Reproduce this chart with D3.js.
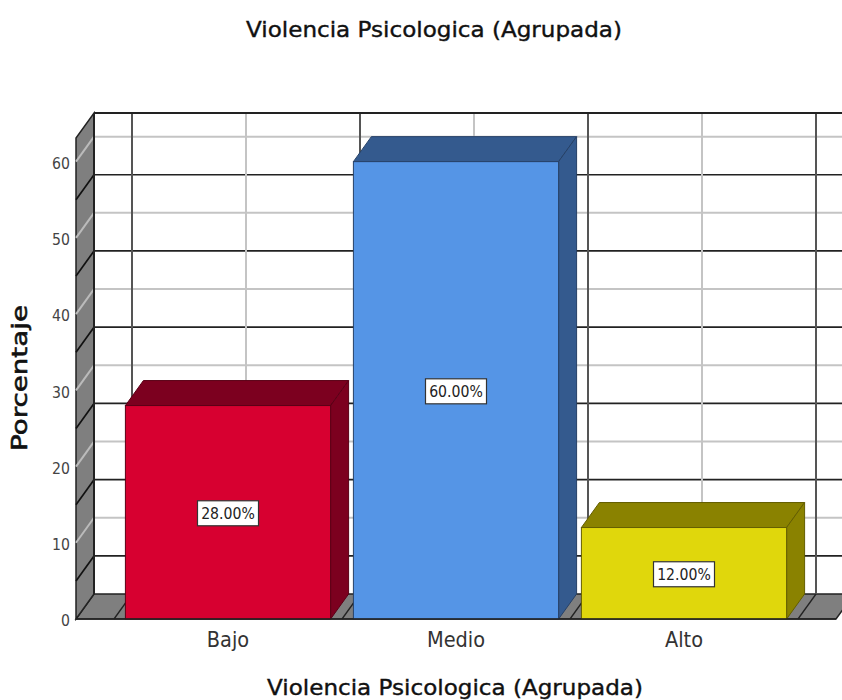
<!DOCTYPE html>
<html>
<head>
<meta charset="utf-8">
<script src="https://cdn.jsdelivr.net/npm/d3@7"></script>
<style>
  html, body { margin: 0; padding: 0; background: #fff; }
  svg { display: block; font-family: "DejaVu Sans", sans-serif; }
</style>
</head>
<body>
<div id="chart"></div>
<script>
const categories = ['Bajo', 'Medio', 'Alto'];
const values = [28, 60, 12];
const valueLabels = ['28.00%', '60.00%', '12.00%'];
const frontColors = ['#d70030', '#5595e6', '#e0d70c'];
const sideColors = ['#7c001f', '#345a8e', '#8a8200'];
const yTicks = [0, 10, 20, 30, 40, 50, 60];
const darkGrid = [5, 15, 25, 35, 45, 55];
const titleText = 'Violencia Psicologica (Agrupada)';
const yTitle = 'Porcentaje';

const width = 842, height = 700;
// offset of the back wall from the front plane
const depthX = 18, depthY = -25;
// the text in the picture is a bit narrower than the font
const narrow = 0.88;

const svg = d3.select('#chart').append('svg')
  .attr('width', width)
  .attr('height', height);

const y = d3.scaleLinear().domain([0, 63.1]).range([619, 138]);

const x = d3.scaleBand()
  .domain(categories)
  .range([114, 798])
  .paddingInner(0.1)
  .paddingOuter(0.05);

const step = x.step();
const left = 76, right = 836;
const divisions = d3.range(0, 4).map(i => x.range()[0] + i * step);
const centers = categories.map(c => x(c) + x.bandwidth() / 2);

const poly = pts => pts.map(p => p.join(',')).join(' ');

// back wall
svg.append('rect')
  .attr('x', left + depthX).attr('y', y.range()[1] + depthY)
  .attr('width', width - left - depthX).attr('height', y.range()[0] - y.range()[1])
  .attr('fill', '#fff');

// floor
svg.append('polygon')
  .attr('points', poly([[left, y(0)], [right, y(0)], [right + depthX, y(0) + depthY], [left + depthX, y(0) + depthY]]))
  .attr('fill', '#7f7f7f')
  .attr('stroke', '#222')
  .attr('stroke-width', 1.5);

// side wall
svg.append('polygon')
  .attr('points', poly([[left, y(0)], [left + depthX, y(0) + depthY], [left + depthX, y.range()[1] + depthY], [left, y.range()[1]]]))
  .attr('fill', '#7f7f7f')
  .attr('stroke', '#222')
  .attr('stroke-width', 1.5);

// horizontal grid, wall and side
function hGrid(list, color, w) {
  list.forEach(v => {
    svg.append('line')
      .attr('x1', left + depthX).attr('x2', width)
      .attr('y1', y(v) + depthY).attr('y2', y(v) + depthY)
      .attr('stroke', color).attr('stroke-width', w);
    svg.append('line')
      .attr('x1', left).attr('x2', left + depthX)
      .attr('y1', y(v)).attr('y2', y(v) + depthY)
      .attr('stroke', color === '#222' ? '#111' : '#bbb').attr('stroke-width', w);
  });
}
hGrid(yTicks.slice(1), '#c4c4c4', 2);
hGrid(darkGrid, '#222', 1.7);

// vertical grid
centers.forEach(c => {
  svg.append('line')
    .attr('x1', c + depthX).attr('x2', c + depthX)
    .attr('y1', y.range()[1] + depthY).attr('y2', y(0) + depthY)
    .attr('stroke', '#c4c4c4').attr('stroke-width', 2);
});
divisions.forEach(d => {
  svg.append('line')
    .attr('x1', d + depthX).attr('x2', d + depthX)
    .attr('y1', y.range()[1] + depthY).attr('y2', y(0) + depthY)
    .attr('stroke', '#555').attr('stroke-width', 2);
  svg.append('line')
    .attr('x1', d).attr('x2', d + depthX)
    .attr('y1', y(0)).attr('y2', y(0) + depthY)
    .attr('stroke', '#222').attr('stroke-width', 1.3);
});

// frame
svg.append('line')
  .attr('x1', left + depthX).attr('x2', width)
  .attr('y1', y.range()[1] + depthY).attr('y2', y.range()[1] + depthY)
  .attr('stroke', '#222').attr('stroke-width', 2);
svg.append('line')
  .attr('x1', left + depthX).attr('x2', left + depthX)
  .attr('y1', y.range()[1] + depthY).attr('y2', y(0) + depthY)
  .attr('stroke', '#222').attr('stroke-width', 2);

// bars
const bars = svg.selectAll('.bar')
  .data(categories)
  .enter().append('g')
  .attr('class', 'bar');

bars.append('polygon')
  .attr('points', (c, i) => {
    const x0 = x(c), x1 = x0 + x.bandwidth(), t = y(values[i]);
    return poly([[x0, t], [x1, t], [x1 + depthX, t + depthY], [x0 + depthX, t + depthY]]);
  })
  .attr('fill', (c, i) => sideColors[i])
  .attr('stroke', (c, i) => d3.color(sideColors[i]).darker(0.9))
  .attr('stroke-width', 1);

bars.append('polygon')
  .attr('points', (c, i) => {
    const x1 = x(c) + x.bandwidth(), t = y(values[i]), b = y(0);
    return poly([[x1, t], [x1 + depthX, t + depthY], [x1 + depthX, b + depthY], [x1, b]]);
  })
  .attr('fill', (c, i) => sideColors[i])
  .attr('stroke', (c, i) => d3.color(sideColors[i]).darker(0.9))
  .attr('stroke-width', 1);

bars.append('rect')
  .attr('x', c => x(c))
  .attr('y', (c, i) => y(values[i]))
  .attr('width', x.bandwidth())
  .attr('height', (c, i) => y(0) - y(values[i]))
  .attr('fill', (c, i) => frontColors[i])
  .attr('stroke', (c, i) => d3.color(sideColors[i]).darker(0.9))
  .attr('stroke-width', 1);

// baseline
svg.append('line')
  .attr('x1', left).attr('x2', right)
  .attr('y1', y(0)).attr('y2', y(0))
  .attr('stroke', '#222').attr('stroke-width', 1.5);

// value labels
const labels = svg.selectAll('.value-label')
  .data(categories)
  .enter().append('g')
  .attr('class', 'value-label')
  .attr('transform', (c, i) => `translate(${x(c) + x.bandwidth() / 2},${y(values[i] / 2) + 1})`);

labels.append('rect')
  .attr('x', -30.5).attr('y', -12.5)
  .attr('width', 61).attr('height', 25)
  .attr('fill', '#fff')
  .attr('stroke', '#333')
  .attr('stroke-width', 1.2);

labels.append('text')
  .attr('text-anchor', 'middle')
  .attr('dy', '0.36em')
  .attr('font-size', 16)
  .attr('transform', `scale(${narrow},1)`)
  .attr('fill', '#222')
  .text((c, i) => valueLabels[i]);

// axes
const yAxis = d3.axisLeft(y).tickValues(yTicks).tickSize(0);
const yG = svg.append('g').attr('transform', `translate(${left},0)`).call(yAxis);
yG.select('.domain').remove();
yG.selectAll('text')
  .attr('x', 0)
  .attr('dy', '0.42em')
  .attr('transform', `translate(-6,0) scale(${narrow},1)`)
  .attr('font-size', 16)
  .attr('font-family', '"DejaVu Sans", sans-serif')
  .attr('fill', '#444');

const xAxis = d3.axisBottom(x).tickSize(0).tickPadding(12);
const xG = svg.append('g').attr('transform', `translate(0,${y(0)})`).call(xAxis);
xG.select('.domain').remove();
xG.selectAll('text')
  .attr('transform', `scale(${narrow},1)`)
  .attr('font-size', 22)
  .attr('font-family', '"DejaVu Sans", sans-serif')
  .attr('fill', '#333');

// titles
svg.append('text')
  .attr('x', 434).attr('y', 37)
  .attr('text-anchor', 'middle')
  .attr('font-size', 22)
  .attr('textLength', 376)
  .attr('lengthAdjust', 'spacingAndGlyphs')
  .attr('stroke', '#111').attr('stroke-width', 0.4)
  .attr('fill', '#111')
  .text(titleText);

svg.append('text')
  .attr('x', 455).attr('y', 695)
  .attr('text-anchor', 'middle')
  .attr('font-size', 22)
  .attr('textLength', 376)
  .attr('lengthAdjust', 'spacingAndGlyphs')
  .attr('stroke', '#111').attr('stroke-width', 0.4)
  .attr('fill', '#111')
  .text(titleText);

svg.append('text')
  .attr('transform', 'translate(27,378) rotate(-90)')
  .attr('text-anchor', 'middle')
  .attr('font-size', 22)
  .attr('textLength', 146)
  .attr('lengthAdjust', 'spacingAndGlyphs')
  .attr('stroke', '#111').attr('stroke-width', 0.6)
  .attr('fill', '#111')
  .text(yTitle);
</script>
</body>
</html>
